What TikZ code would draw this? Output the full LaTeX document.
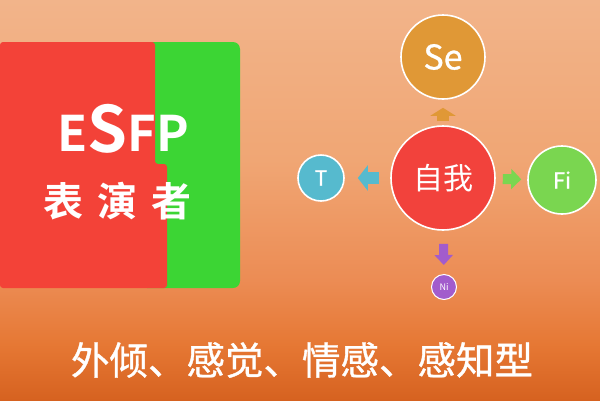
\documentclass[tikz,border=0pt]{standalone}
\usepackage{fontspec}
\newfontfamily\cjk{Noto Sans CJK SC}
\newfontfamily\cjkm[FakeBold=0.9]{Noto Sans CJK SC}
\newfontfamily\cjkb{Noto Sans CJK SC Bold}
\usetikzlibrary{arrows.meta}
\definecolor{bgtop}{RGB}{242,180,138}
\definecolor{bgmid}{RGB}{240,166,116}
\definecolor{bglow}{RGB}{236,140,84}
\definecolor{bgband}{RGB}{230,120,52}
\definecolor{bgbot}{RGB}{214,98,32}
\definecolor{esred}{RGB}{243,66,56}
\definecolor{esgreen}{RGB}{60,213,52}
\definecolor{cego}{RGB}{242,66,60}
\definecolor{cse}{RGB}{224,152,54}
\definecolor{ct}{RGB}{86,186,206}
\definecolor{cfi}{RGB}{122,214,80}
\definecolor{cni}{RGB}{162,92,204}
\pgfdeclareverticalshading{bgshade}{100bp}{color(0bp)=(bgbot); color(25bp)=(bgbot); color(32bp)=(bgband); color(40bp)=(bglow); color(55bp)=(bgmid); color(75bp)=(bgtop); color(100bp)=(bgtop)}
\begin{document}
\begin{tikzpicture}[x=1pt,y=-1pt,
  circ/.style={circle,draw=white,line width=1.6pt,text=white,inner sep=0pt,minimum size=#1},
  blk/.style={line width=#1},
  lbl/.style={text=white,inner sep=0pt}]
\useasboundingbox (0,0) rectangle (600,400);
\shade[shading=bgshade] (0,0) rectangle (600,400);
% ESFP card
\fill[esgreen,rounded corners=7pt] (140,42) rectangle (240,288);
\fill[esred,rounded corners=3pt] (0,42) -- (155,42) -- (155,164) -- (167,164) -- (167,288) -- (0,288) -- cycle;
\node[lbl,font=\cjkb\fontsize{49}{49}\selectfont] (esfp) at (123,129) {E\raisebox{-1pt}{\fontsize{64}{64}\selectfont S}FP};
\node[lbl,font=\cjkb\fontsize{40}{40}\selectfont] (title) at (117,201) {表\hspace{14pt}演\hspace{14pt}者};
% circles
\node[circ=104pt,fill=cego,font=\cjk\fontsize{30}{30}\selectfont] (ego) at (443,178) {自我};
\node[circ=84pt,fill=cse,font=\cjkm\fontsize{34}{34}\selectfont] (se) at (443,57) {Se};
\node[circ=46pt,fill=ct,font=\cjkm\fontsize{21}{21}\selectfont] (t) at (321,178) {T};
\node[circ=68pt,fill=cfi,font=\cjkm\fontsize{22}{22}\selectfont] (fi) at (562,180) {Fi};
\node[circ=25pt,fill=cni,line width=1pt,font=\cjk\fontsize{9}{9}\selectfont] (ni) at (444,287) {Ni};
% block arrows
\draw[cse,blk=12pt,-{Triangle[length=8pt,width=25pt]},shorten <=4pt,shorten >=8pt] (ego) -- (se);
\draw[ct,blk=12pt,-{Triangle[length=10pt,width=25pt]},shorten <=11pt,shorten >=13pt] (ego) -- (t);
\draw[cfi,blk=10pt,-{Triangle[length=10pt,width=20pt]},shorten <=7pt,shorten >=6pt] (ego) -- (fi);
\draw[cni,blk=9pt,-{Triangle[length=10pt,width=18pt]},shorten <=13pt,shorten >=9pt] (ego) -- (ni);
% bottom text
\node[lbl,font=\cjkm\fontsize{38.5}{38.5}\selectfont] (sub) at (302,360) {外倾、感觉、情感、感知型};
\end{tikzpicture}
\end{document}
